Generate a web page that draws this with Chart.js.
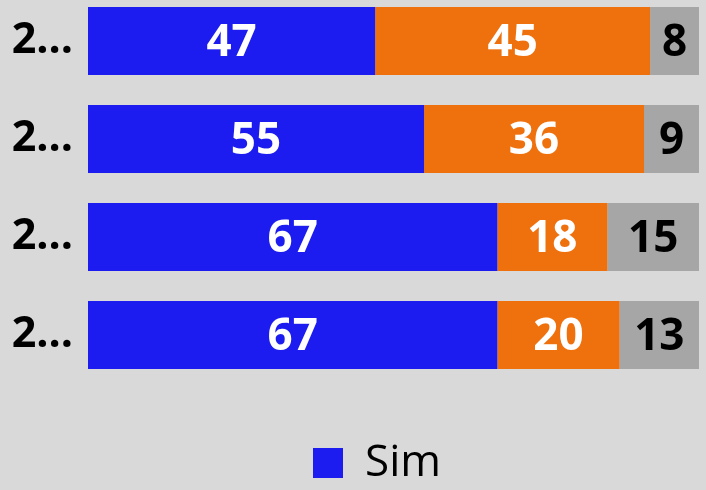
<!DOCTYPE html>
<html>
<head>
<meta charset="utf-8">
<script src="https://cdn.jsdelivr.net/npm/chart.js@4"></script>
<style>
  html, body { margin: 0; padding: 0; background: #d9d9d9; overflow: hidden; }
  #wrap { position: absolute; left: 0; top: -8px; width: 706px; height: 503px; }
</style>
</head>
<body>
<div id="wrap"><canvas id="grafico"></canvas></div>
<script>
// ==================== DATOS ====================
const categorias = ['2...', '2...', '2...', '2...'];
const valoresSim = [47, 55, 67, 67];
const valoresNao = [45, 36, 18, 20];
const valoresNs = [8, 9, 15, 13];

const colorSim = '#1c1cf0';
const colorNao = '#ef710d';
const colorNs = '#a6a6a6';

// etiquetas dentro de cada segmento
const etiquetasPlugin = {
    id: 'etiquetas',
    afterDatasetsDraw(chart) {
        const ctx = chart.ctx;
        ctx.save();
        ctx.font = 'bold 44px "Open Sans", sans-serif';
        ctx.textAlign = 'center';
        ctx.textBaseline = 'middle';
        chart.data.datasets.forEach(function (ds, i) {
            const meta = chart.getDatasetMeta(i);
            meta.data.forEach(function (bar, j) {
                const x = (bar.x + bar.base) / 2;
                ctx.fillStyle = ds.labelColor;
                ctx.fillText(ds.data[j], x, bar.y + 2);
            });
        });
        ctx.restore();
    }
};

// la leyenda va un poco a la derecha, como en el original
const moverLeyenda = {
    id: 'moverLeyenda',
    afterLayout(chart) {
        if (chart.legend) chart.legend.left += 55;
    }
};

new Chart(document.getElementById('grafico').getContext('2d'), {
    type: 'bar',
    data: {
        labels: categorias,
        datasets: [
            { label: 'Sim', data: valoresSim, backgroundColor: colorSim, labelColor: '#ffffff' },
            { label: 'Não', data: valoresNao, backgroundColor: colorNao, labelColor: '#ffffff' },
            { label: 'NS/NR', data: valoresNs, backgroundColor: colorNs, labelColor: '#000000' }
        ]
    },
    options: {
        indexAxis: 'y',
        responsive: true,
        maintainAspectRatio: false,
        animation: false,
        datasets: { bar: { barPercentage: 0.694, categoryPercentage: 1 } },
        layout: { padding: { left: 0, right: 7, top: 0, bottom: 0 } },
        scales: {
            x: {
                stacked: true, min: 0, max: 100,
                grid: { display: false },
                border: { display: false },
                ticks: { display: false },
                afterFit(scale) { scale.height = 47; }
            },
            y: {
                stacked: true,
                grid: { display: false },
                border: { display: false },
                ticks: {
                    color: '#000000',
                    padding: 7,
                    font: { family: '"Open Sans", sans-serif', size: 43, weight: 'bold' }
                },
                afterFit(scale) {
                    scale.width = 88;
                    scale.paddingTop = 0;
                    scale.paddingBottom = 0;
                }
            }
        },
        plugins: {
            tooltip: { enabled: false },
            legend: {
                position: 'bottom',
                labels: {
                    filter: function (item) { return item.datasetIndex === 0; },
                    color: '#000000',
                    boxWidth: 30,
                    boxHeight: 30,
                    padding: 10,
                    font: { family: '"Open Sans", sans-serif', size: 44 }
                }
            }
        }
    },
    plugins: [etiquetasPlugin, moverLeyenda]
});
</script>
</body>
</html>
